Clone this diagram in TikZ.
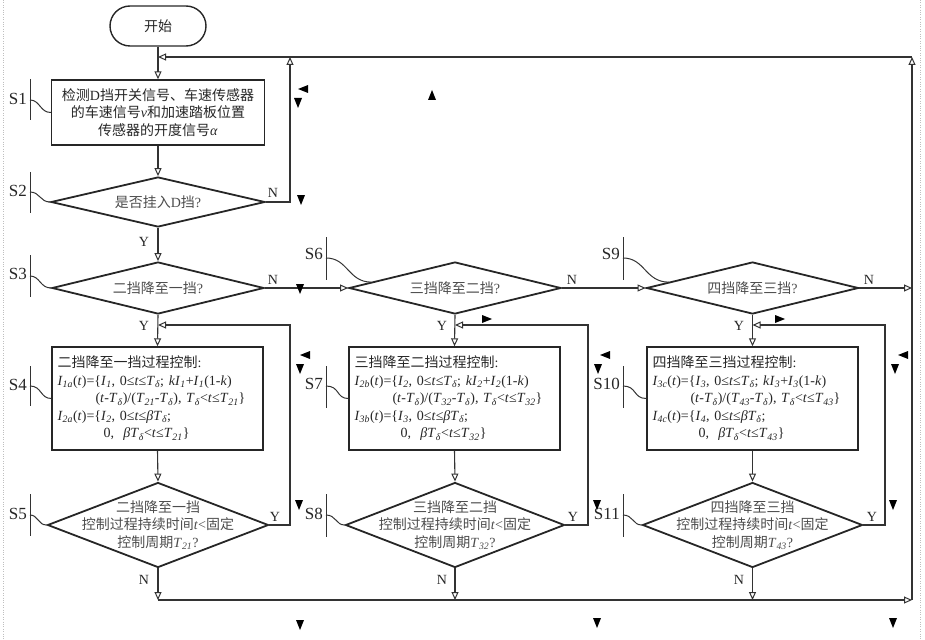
\documentclass[tikz,border=0pt]{standalone}
\usepackage{fontspec}
\setmainfont{Liberation Serif}
\newfontfamily\cjk{Noto Sans CJK SC}
\usetikzlibrary{arrows.meta,shapes.geometric}
\newcommand\vi[1]{\textit{#1}}
\newcommand\sub[2]{\textit{#1}\textsubscript{\textit{#2}}}
\newcommand\blip[3]{\fill[black,shift={(#1,#2)},rotate=#3] (5pt,0pt) -- (-5pt,4pt) -- (-5pt,-4pt) -- cycle;}
\begin{document}
\begin{tikzpicture}[x=1pt,y=-1pt,
  every node/.style={font=\fontsize{14}{17.5}\selectfont, text=black!85},
  flow/.style={draw=black!80, line width=1.1pt},
  arr/.style={flow, -{Triangle[open,length=8pt,width=7pt,line width=1pt]}},
  proc/.style={draw=black!85, line width=1.4pt, rectangle, inner sep=0pt},
  dia/.style={draw=black!85, line width=1.8pt, diamond, inner sep=0pt},
  qtxt/.style={align=center, text=black!70},
  lab/.style={font=\fontsize{14}{14}\selectfont, inner sep=0pt},
  stp/.style={font=\fontsize{17}{17}\selectfont, inner sep=0pt, anchor=east},
  brk/.style={draw=black!80, line width=1pt},
]
\useasboundingbox (0,0) rectangle (925,639);
\draw[black!25, dotted] (3,0) -- (3,639) (920,0) -- (920,639);

% ---- nodes
\node[draw=black!85, line width=1.4pt, rounded corners=20pt, minimum width=96pt, minimum height=40pt] (start) at (158,26) {\cjk 开始};
\node[proc, minimum width=213pt, minimum height=65pt, align=center] (s1) at (158,112.5)
  {{\cjk 检测}D{\cjk 挡开关信号、车速传感器}\\{\cjk 的车速信号}\vi{v}{\cjk 和加速踏板位置}\\{\cjk 传感器的开度信号}\vi{α}};
\node[dia, minimum width=214pt, minimum height=50pt] (s2) at (158,202) {};
\node[qtxt] at (s2.center) {{\cjk 是否挂入}D{\cjk 挡}?};

\node[dia, minimum width=212pt, minimum height=52pt] (s3) at (158,288) {};
\node[qtxt] at (s3.center) {{\cjk 二挡降至一挡}?};
\node[dia, minimum width=212pt, minimum height=52pt] (s6) at (455,288) {};
\node[qtxt] at (s6.center) {{\cjk 三挡降至二挡}?};
\node[dia, minimum width=212pt, minimum height=52pt] (s9) at (752.5,288) {};
\node[qtxt] at (s9.center) {{\cjk 四挡降至三挡}?};

\node[proc, minimum width=211pt, minimum height=103pt, text width=200pt, align=left] (s4) at (157.5,398.5)
  {{\cjk 二挡降至一挡过程控制}:\\
   \sub{I}{1a}(\vi{t})=\{\sub{I}{1}, 0≤\vi{t}≤\sub{T}{δ}; \vi{k}\sub{I}{1}+\sub{I}{1}(1-\vi{k})\\
   \hspace*{38pt}(\vi{t}-\sub{T}{δ})/(\sub{T}{21}-\sub{T}{δ}), \sub{T}{δ}<\vi{t}≤\sub{T}{21}\}\\
   \sub{I}{2a}(\vi{t})=\{\sub{I}{2}, 0≤\vi{t}≤\vi{β}\sub{T}{δ};\\
   \hspace*{46pt}0, \ \vi{β}\sub{T}{δ}<\vi{t}≤\sub{T}{21}\}};
\node[proc, minimum width=211pt, minimum height=103pt, text width=200pt, align=left] (s7) at (454.5,398.5)
  {{\cjk 三挡降至二挡过程控制}:\\
   \sub{I}{2b}(\vi{t})=\{\sub{I}{2}, 0≤\vi{t}≤\sub{T}{δ}; \vi{k}\sub{I}{2}+\sub{I}{2}(1-\vi{k})\\
   \hspace*{38pt}(\vi{t}-\sub{T}{δ})/(\sub{T}{32}-\sub{T}{δ}), \sub{T}{δ}<\vi{t}≤\sub{T}{32}\}\\
   \sub{I}{3b}(\vi{t})=\{\sub{I}{3}, 0≤\vi{t}≤\vi{β}\sub{T}{δ};\\
   \hspace*{46pt}0, \ \vi{β}\sub{T}{δ}<\vi{t}≤\sub{T}{32}\}};
\node[proc, minimum width=211pt, minimum height=103pt, text width=200pt, align=left] (s10) at (752.5,398.5)
  {{\cjk 四挡降至三挡过程控制}:\\
   \sub{I}{3c}(\vi{t})=\{\sub{I}{3}, 0≤\vi{t}≤\sub{T}{δ}; \vi{k}\sub{I}{3}+\sub{I}{3}(1-\vi{k})\\
   \hspace*{38pt}(\vi{t}-\sub{T}{δ})/(\sub{T}{43}-\sub{T}{δ}), \sub{T}{δ}<\vi{t}≤\sub{T}{43}\}\\
   \sub{I}{4c}(\vi{t})=\{\sub{I}{4}, 0≤\vi{t}≤\vi{β}\sub{T}{δ};\\
   \hspace*{46pt}0, \ \vi{β}\sub{T}{δ}<\vi{t}≤\sub{T}{43}\}};

\node[dia, minimum width=221pt, minimum height=85pt] (s5) at (158,525) {};
\node[qtxt] at (s5.center) {{\cjk 二挡降至一挡}\\{\cjk 控制过程持续时间}\vi{t}<{\cjk 固定}\\{\cjk 控制周期}\sub{T}{21}?};
\node[dia, minimum width=219pt, minimum height=85pt] (s8) at (455,525) {};
\node[qtxt] at (s8.center) {{\cjk 三挡降至二挡}\\{\cjk 控制过程持续时间}\vi{t}<{\cjk 固定}\\{\cjk 控制周期}\sub{T}{32}?};
\node[dia, minimum width=220pt, minimum height=85pt] (s11) at (752.5,525) {};
\node[qtxt] at (s11.center) {{\cjk 四挡降至三挡}\\{\cjk 控制过程持续时间}\vi{t}<{\cjk 固定}\\{\cjk 控制周期}\sub{T}{43}?};

% ---- coordinates
\coordinate (topL) at (158,57);
\coordinate (top1) at (290,57);
\coordinate (topR) at (912,57);
\coordinate (botL) at (158,600);
\coordinate (bot2) at (455,600);
\coordinate (bot3) at (752.5,600);
\coordinate (botR) at (912,600);
\coordinate (rmid) at (912,288);
\coordinate (j1) at (158,325);
\coordinate (j2) at (455,325);
\coordinate (j3) at (752.5,325);
\coordinate (l1) at (290,325);
\coordinate (l2) at (588,325);
\coordinate (l3) at (885,325);

% ---- connectors
\draw[arr] (start.south) -- (s1.north);
\draw[arr] (s1.south) -- (s2.north);
\draw[arr] (s2.south) -- (s3.north);
\draw[arr] (s2.east) -| (top1);
\draw[arr] (topR) -- (topL);
\draw[arr] (botR) -- (topR);
\draw[arr] (s3.east) -- (s6.west);
\draw[arr] (s6.east) -- (s9.west);
\draw[arr] (s9.east) -- (rmid);
\draw[arr] (s3.south) -- (s4.north);
\draw[arr] (s6.south) -- (s7.north);
\draw[arr] (s9.south) -- (s10.north);
\draw[arr] (s4.south) -- (s5.north);
\draw[arr] (s7.south) -- (s8.north);
\draw[arr] (s10.south) -- (s11.north);
\draw[arr] (s5.east) -| (l1) -- (j1);
\draw[arr] (s8.east) -| (l2) -- (j2);
\draw[arr] (s11.east) -| (l3) -- (j3);
\draw[arr] (s5.south) -- (botL);
\draw[arr] (s8.south) -- (bot2);
\draw[arr] (s11.south) -- (bot3);
\draw[arr] (botL) -- (botR);

% ---- Y / N labels
\node[lab] at (144,242) {Y};
\node[lab] at (273,193) {N};
\node[lab] at (273,280) {N};
\node[lab] at (572,280) {N};
\node[lab] at (869,280) {N};
\node[lab] at (144,326) {Y};
\node[lab] at (442,326) {Y};
\node[lab] at (739,326) {Y};
\node[lab] at (275,517) {Y};
\node[lab] at (573,517) {Y};
\node[lab] at (872,517) {Y};
\node[lab] at (144,580) {N};
\node[lab] at (442,580) {N};
\node[lab] at (739,580) {N};

% ---- step labels
\node[stp] at (27,99) {S1};
\draw[brk] (30,79) -- (30,120);
\draw[brk] (30,100) .. controls (40,100) and (40,112.5) .. (s1.west);
\node[stp] at (27,191) {S2};
\draw[brk] (30,172) -- (30,213);
\draw[brk] (30,192) .. controls (40,192) and (40,202) .. (s2.west);
\node[stp] at (27,274) {S3};
\draw[brk] (30,255) -- (30,297);
\draw[brk] (30,276) .. controls (40,276) and (40,288) .. (s3.west);
\node[stp] at (27,385) {S4};
\draw[brk] (30,366) -- (30,406);
\draw[brk] (30,386) .. controls (42,386) and (40,398.5) .. (s4.west);
\node[stp] at (27,514) {S5};
\draw[brk] (30,494) -- (30,536);
\draw[brk] (30,515) .. controls (38,515) and (38,525) .. (s5.west);

\node[stp] at (323,254) {S6};
\draw[brk] (326,237) -- (326,280);
\draw[brk] (326,258) .. controls (348,258) and (348,282) .. (s6.176);
\node[stp] at (323,384) {S7};
\draw[brk] (326,366) -- (326,408);
\draw[brk] (326,386) .. controls (340,386) and (336,398.5) .. (s7.west);
\node[stp] at (323,514) {S8};
\draw[brk] (326,494) -- (326,537);
\draw[brk] (326,515) .. controls (336,515) and (336,525) .. (s8.west);

\node[stp] at (620,254) {S9};
\draw[brk] (623,237) -- (623,280);
\draw[brk] (623,258) .. controls (645,258) and (645,282) .. (s9.176);
\node[stp] at (620,384) {S10};
\draw[brk] (623,366) -- (623,408);
\draw[brk] (623,386) .. controls (637,386) and (633,398.5) .. (s10.west);
\node[stp] at (620,514) {S11};
\draw[brk] (623,494) -- (623,537);
\draw[brk] (623,515) .. controls (633,515) and (633,525) .. (s11.west);

% ---- small black marks
\blip{298}{103}{-90}
\blip{303}{89}{180}
\blip{432}{95}{90}
\blip{301}{200}{-90}
\blip{300}{289}{-90}
\blip{305}{355}{180}
\blip{300}{369}{-90}
\blip{605}{355}{180}
\blip{598}{369}{-90}
\blip{903}{355}{180}
\blip{895}{369}{-90}
\blip{487}{319}{0}
\blip{780}{319}{0}
\blip{299}{505}{-90}
\blip{597}{505}{-90}
\blip{893}{505}{-90}
\blip{300}{625}{-90}
\blip{597}{623}{-90}
\blip{893}{623}{-90}
\end{tikzpicture}
\end{document}
